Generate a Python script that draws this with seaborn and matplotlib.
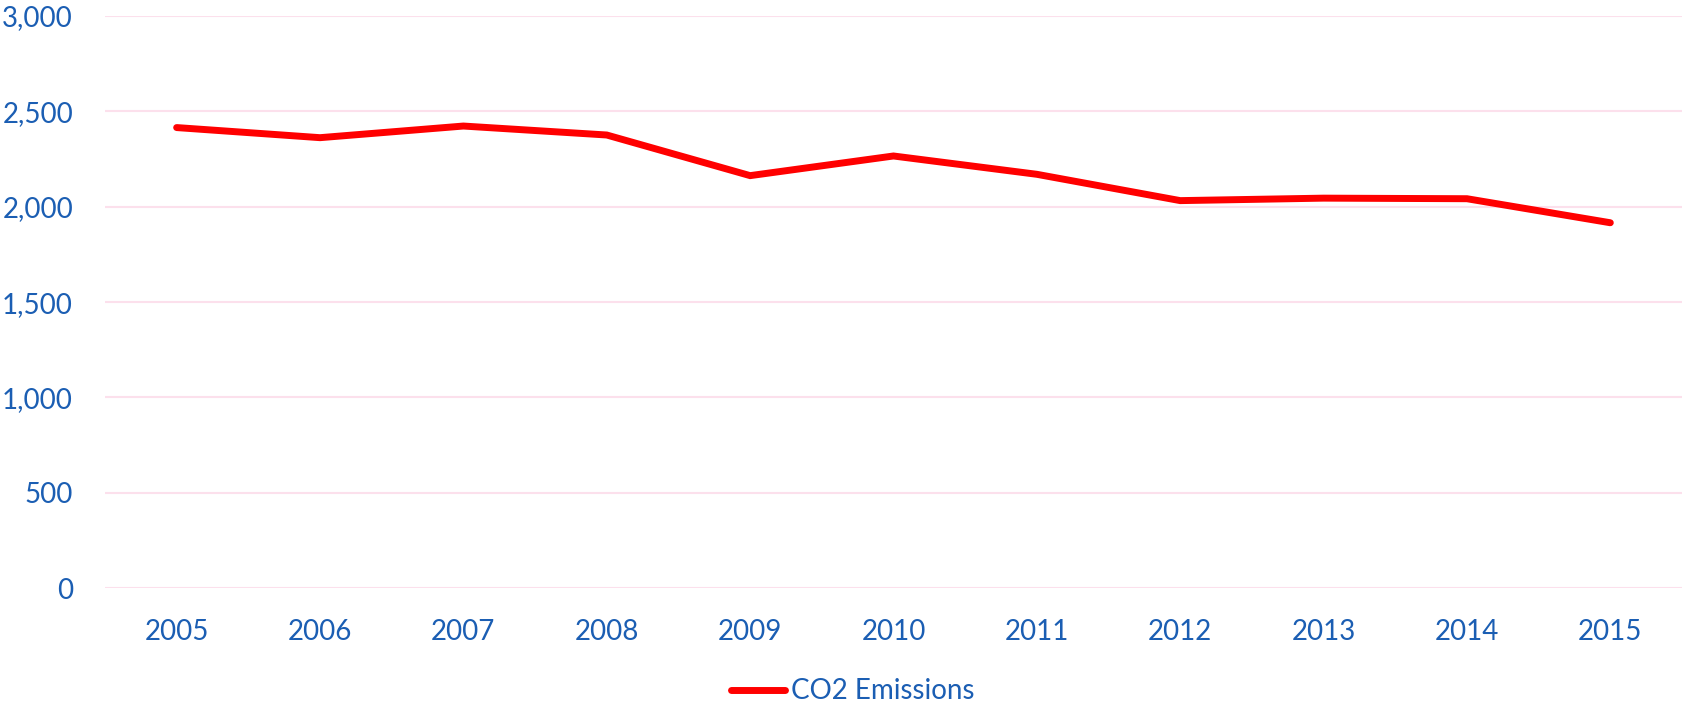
import pandas as pd
import matplotlib.pyplot as plt
import seaborn as sns
from matplotlib.ticker import FuncFormatter

# CO2 emissions per year
years = [2005, 2006, 2007, 2008, 2009, 2010, 2011, 2012, 2013, 2014, 2015]
emissions = [2415, 2362, 2423, 2376, 2163, 2266, 2170, 2032, 2045, 2042, 1916]
y_ticks = [0, 500, 1000, 1500, 2000, 2500, 3000]

df = pd.DataFrame({'Year': years, 'CO2 Emissions': emissions})

sns.set_theme(style='white')
plt.rcParams['font.family'] = ['Lato', 'DejaVu Sans']

text_color = '#1B5EB3'
grid_color = '#FCE0EC'

fig = plt.figure(figsize=(16.82, 7.07), dpi=100)
ax = fig.add_axes([0.0624, 0.168, 0.9376, 0.8094])

sns.lineplot(data=df, x='Year', y='CO2 Emissions', color='#FF0000', linewidth=5,
             solid_capstyle='round', solid_joinstyle='miter', label='CO2 Emissions', ax=ax)

ax.set_xlim(2004.5, 2015.5)
ax.set_ylim(0, 3000)
ax.set_xticks(years)
ax.set_yticks(y_ticks)
ax.yaxis.set_major_formatter(FuncFormatter(lambda v, p: f'{int(v):,}'))
ax.grid(True, axis='y', color=grid_color, linewidth=1.5)
ax.set_axisbelow(True)
for s in ax.spines.values():
    s.set_visible(False)
ax.tick_params(axis='y', length=0, pad=23, labelsize=20, labelcolor=text_color)
ax.tick_params(axis='x', length=0, pad=22, labelsize=20, labelcolor=text_color)
ax.set_xlabel('')
ax.set_ylabel('')

ax.legend(loc='center', bbox_to_anchor=(0.507, 0.022), bbox_transform=fig.transFigure,
          frameon=False, fontsize=20, labelcolor=text_color, handlelength=1.95,
          handletextpad=0.2)

plt.savefig('out.png', dpi=100)
